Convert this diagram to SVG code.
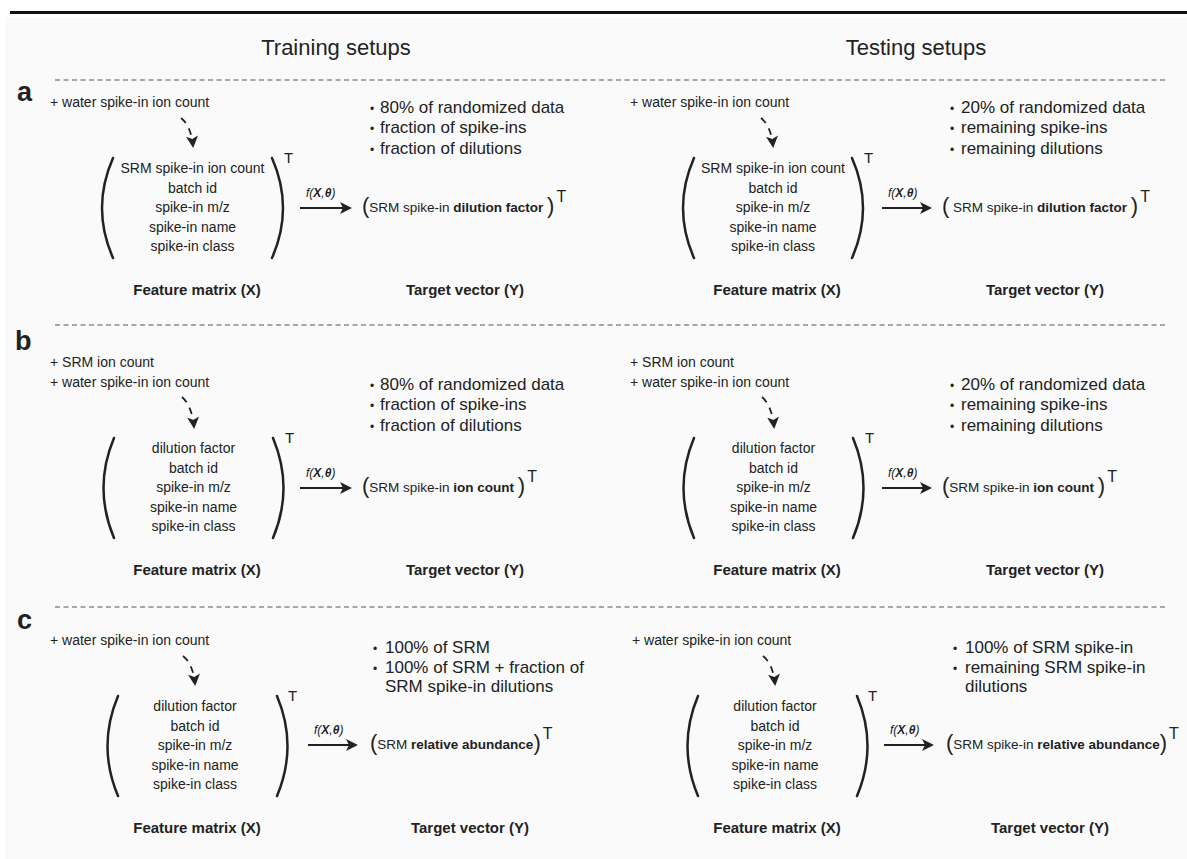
<svg xmlns="http://www.w3.org/2000/svg" width="1187" height="859" viewBox="0 0 1187 859">
<defs>
<style>
.t{font-family:"Liberation Sans",Arial,Helvetica,sans-serif;fill:#222}
.title{font-size:22px;text-anchor:middle}
.lab{font-size:27px;font-weight:bold}
.note{font-size:14px}
.row{font-size:14px;text-anchor:middle}
.bul{font-size:17px}
.bd{font-size:12px}
.cap{font-size:15px;font-weight:bold;text-anchor:middle}
.tgt{font-size:13.5px}
.sup{font-size:15px}
.flab{font-size:12px;font-style:italic}
.b{font-weight:bold}
.par{fill:none;stroke:#222;stroke-width:2.5;stroke-linecap:round}
.sep{stroke:#555;stroke-width:1;stroke-dasharray:5 3.5}
.arr{fill:none;stroke:#222;stroke-width:1.8;marker-end:url(#ah)}
.darr{fill:none;stroke:#222;stroke-width:1.8;stroke-dasharray:7 6;marker-end:url(#ah)}
</style>
<marker id="ah" viewBox="0 0 12 12" refX="10" refY="6" markerWidth="12" markerHeight="12" markerUnits="userSpaceOnUse" orient="auto">
<path d="M0,0 L12,6 L0,12 L3,6 z" fill="#222"/>
</marker>
</defs>
<rect x="0" y="0" width="1187" height="859" fill="#ffffff"/>
<rect x="5" y="17" width="1182" height="842" fill="#fafafa"/>
<line x1="10" y1="12.5" x2="1187" y2="12.5" stroke="#111" stroke-width="3"/>

<g id="headers">
<text class="t title" x="336" y="55">Training setups</text>
<text class="t title" x="916" y="55">Testing setups</text>
</g>

<g id="separators">
<line class="sep" x1="55" y1="80" x2="1167" y2="80"/>
<line class="sep" x1="55" y1="325" x2="1167" y2="325"/>
<line class="sep" x1="55" y1="607" x2="1167" y2="607"/>
<text class="t lab" x="17" y="101">a</text>
<text class="t lab" x="15" y="350">b</text>
<text class="t lab" x="17" y="629">c</text>
</g>

<g id="connectors">
<path class="darr" d="M181,118 Q191,126 193,146"/>
<path class="darr" d="M761,118 Q771,126 773,146"/>
<path class="darr" d="M182,397 Q192,406 194,427"/>
<path class="darr" d="M762,397 Q772,406 774,427"/>
<path class="darr" d="M183,656 Q193,664 195,684"/>
<path class="darr" d="M763,656 Q773,664 775,684"/>
<path class="arr" d="M300,208 H350"/>
<path class="arr" d="M882,208 H930"/>
<path class="arr" d="M300,488 H350"/>
<path class="arr" d="M882,488 H930"/>
<path class="arr" d="M308,745 H356"/>
<path class="arr" d="M884,745 H932"/>
<text class="t flab" x="306" y="197">f(<tspan class="b">X</tspan>,<tspan class="b">θ</tspan>)</text>
<text class="t flab" x="888" y="197">f(<tspan class="b">X</tspan>,<tspan class="b">θ</tspan>)</text>
<text class="t flab" x="306" y="477">f(<tspan class="b">X</tspan>,<tspan class="b">θ</tspan>)</text>
<text class="t flab" x="888" y="477">f(<tspan class="b">X</tspan>,<tspan class="b">θ</tspan>)</text>
<text class="t flab" x="314" y="734">f(<tspan class="b">X</tspan>,<tspan class="b">θ</tspan>)</text>
<text class="t flab" x="890" y="734">f(<tspan class="b">X</tspan>,<tspan class="b">θ</tspan>)</text>
</g>

<!-- Panel a training -->
<g id="a-train-input"><text class="t note" x="50" y="107">+ water spike-in ion count</text></g>
<g id="a-train-matrix">
<path class="par" d="M113,158 Q91,208 113,258"/>
<path class="par" d="M272,158 Q294,208 272,258"/>
<text class="t sup" x="284" y="163">T</text>
<text class="t row" x="192.5" y="173">SRM spike-in ion count</text>
<text class="t row" x="192.5" y="193">batch id</text>
<text class="t row" x="192.5" y="212">spike-in m/z</text>
<text class="t row" x="192.5" y="232">spike-in name</text>
<text class="t row" x="192.5" y="251">spike-in class</text>
<text class="t cap" x="197" y="295">Feature matrix (X)</text>
</g>
<g id="a-train-target">
<text class="t tgt" x="362" y="213"><tspan font-size="22">(</tspan><tspan dy="-1">SRM spike-in </tspan><tspan class="b">dilution factor </tspan><tspan font-size="22" dy="1">)</tspan><tspan font-size="16" dy="-11" dx="2">T</tspan></text>
<text class="t cap" x="465" y="295">Target vector (Y)</text>
</g>
<g id="a-train-bullets">
<text class="t bul" x="370" y="113"><tspan class="bd">•</tspan><tspan x="380">80% of randomized data</tspan></text>
<text class="t bul" x="370" y="133"><tspan class="bd">•</tspan><tspan x="380">fraction of spike-ins</tspan></text>
<text class="t bul" x="370" y="154"><tspan class="bd">•</tspan><tspan x="380">fraction of dilutions</tspan></text>
</g>

<!-- Panel a testing -->
<g id="a-test-input"><text class="t note" x="630" y="107">+ water spike-in ion count</text></g>
<g id="a-test-matrix">
<path class="par" d="M694,158 Q672,208 694,258"/>
<path class="par" d="M852,158 Q874,208 852,258"/>
<text class="t sup" x="864" y="163">T</text>
<text class="t row" x="773" y="173">SRM spike-in ion count</text>
<text class="t row" x="773" y="193">batch id</text>
<text class="t row" x="773" y="212">spike-in m/z</text>
<text class="t row" x="773" y="232">spike-in name</text>
<text class="t row" x="773" y="251">spike-in class</text>
<text class="t cap" x="777" y="295">Feature matrix (X)</text>
</g>
<g id="a-test-target">
<text class="t tgt" x="942" y="213"><tspan font-size="22">(</tspan><tspan dy="-1"> SRM spike-in </tspan><tspan class="b">dilution factor </tspan><tspan font-size="22" dy="1">)</tspan><tspan font-size="16" dy="-11" dx="2">T</tspan></text>
<text class="t cap" x="1045" y="295">Target vector (Y)</text>
</g>
<g id="a-test-bullets">
<text class="t bul" x="950" y="113"><tspan class="bd">•</tspan><tspan x="961">20% of randomized data</tspan></text>
<text class="t bul" x="950" y="133"><tspan class="bd">•</tspan><tspan x="961">remaining spike-ins</tspan></text>
<text class="t bul" x="950" y="154"><tspan class="bd">•</tspan><tspan x="961">remaining dilutions</tspan></text>
</g>

<!-- Panel b training -->
<g id="b-train-input">
<text class="t note" x="50" y="367">+ SRM ion count</text>
<text class="t note" x="50" y="387">+ water spike-in ion count</text>
</g>
<g id="b-train-matrix">
<path class="par" d="M114,438 Q93,488 114,538"/>
<path class="par" d="M273,438 Q294,488 273,538"/>
<text class="t sup" x="285" y="443">T</text>
<text class="t row" x="193.5" y="453">dilution factor</text>
<text class="t row" x="193.5" y="473">batch id</text>
<text class="t row" x="193.5" y="492">spike-in m/z</text>
<text class="t row" x="193.5" y="512">spike-in name</text>
<text class="t row" x="193.5" y="531">spike-in class</text>
<text class="t cap" x="197" y="575">Feature matrix (X)</text>
</g>
<g id="b-train-target">
<text class="t tgt" x="362" y="493"><tspan font-size="22">(</tspan><tspan dy="-1">SRM spike-in </tspan><tspan class="b">ion count </tspan><tspan font-size="22" dy="1">)</tspan><tspan font-size="16" dy="-11" dx="2">T</tspan></text>
<text class="t cap" x="465" y="575">Target vector (Y)</text>
</g>
<g id="b-train-bullets">
<text class="t bul" x="370" y="390"><tspan class="bd">•</tspan><tspan x="380">80% of randomized data</tspan></text>
<text class="t bul" x="370" y="410"><tspan class="bd">•</tspan><tspan x="380">fraction of spike-ins</tspan></text>
<text class="t bul" x="370" y="431"><tspan class="bd">•</tspan><tspan x="380">fraction of dilutions</tspan></text>
</g>

<!-- Panel b testing -->
<g id="b-test-input">
<text class="t note" x="630" y="367">+ SRM ion count</text>
<text class="t note" x="630" y="387">+ water spike-in ion count</text>
</g>
<g id="b-test-matrix">
<path class="par" d="M694,438 Q673,488 694,538"/>
<path class="par" d="M853,438 Q874,488 853,538"/>
<text class="t sup" x="865" y="443">T</text>
<text class="t row" x="773.5" y="453">dilution factor</text>
<text class="t row" x="773.5" y="473">batch id</text>
<text class="t row" x="773.5" y="492">spike-in m/z</text>
<text class="t row" x="773.5" y="512">spike-in name</text>
<text class="t row" x="773.5" y="531">spike-in class</text>
<text class="t cap" x="777" y="575">Feature matrix (X)</text>
</g>
<g id="b-test-target">
<text class="t tgt" x="942" y="493"><tspan font-size="22">(</tspan><tspan dy="-1">SRM spike-in </tspan><tspan class="b">ion count </tspan><tspan font-size="22" dy="1">)</tspan><tspan font-size="16" dy="-11" dx="2">T</tspan></text>
<text class="t cap" x="1045" y="575">Target vector (Y)</text>
</g>
<g id="b-test-bullets">
<text class="t bul" x="950" y="390"><tspan class="bd">•</tspan><tspan x="961">20% of randomized data</tspan></text>
<text class="t bul" x="950" y="410"><tspan class="bd">•</tspan><tspan x="961">remaining spike-ins</tspan></text>
<text class="t bul" x="950" y="431"><tspan class="bd">•</tspan><tspan x="961">remaining dilutions</tspan></text>
</g>

<!-- Panel c training -->
<g id="c-train-input"><text class="t note" x="50" y="645">+ water spike-in ion count</text></g>
<g id="c-train-matrix">
<path class="par" d="M118,696 Q97,746 118,796"/>
<path class="par" d="M277,696 Q298,746 277,796"/>
<text class="t sup" x="288" y="701">T</text>
<text class="t row" x="195" y="711">dilution factor</text>
<text class="t row" x="195" y="731">batch id</text>
<text class="t row" x="195" y="750">spike-in m/z</text>
<text class="t row" x="195" y="770">spike-in name</text>
<text class="t row" x="195" y="789">spike-in class</text>
<text class="t cap" x="197" y="833">Feature matrix (X)</text>
</g>
<g id="c-train-target">
<text class="t tgt" x="370" y="750"><tspan font-size="22">(</tspan><tspan dy="-1">SRM </tspan><tspan class="b">relative abundance</tspan><tspan font-size="22" dy="1">)</tspan><tspan font-size="16" dy="-11" dx="2">T</tspan></text>
<text class="t cap" x="470" y="833">Target vector (Y)</text>
</g>
<g id="c-train-bullets">
<text class="t bul" x="373" y="653"><tspan class="bd">•</tspan><tspan x="385">100% of SRM</tspan></text>
<text class="t bul" x="373" y="673"><tspan class="bd">•</tspan><tspan x="385">100% of SRM + fraction of</tspan></text>
<text class="t bul" x="385" y="692">SRM spike-in dilutions</text>
</g>

<!-- Panel c testing -->
<g id="c-test-input"><text class="t note" x="632" y="645">+ water spike-in ion count</text></g>
<g id="c-test-matrix">
<path class="par" d="M698,696 Q677,746 698,796"/>
<path class="par" d="M857,696 Q878,746 857,796"/>
<text class="t sup" x="868" y="701">T</text>
<text class="t row" x="775" y="711">dilution factor</text>
<text class="t row" x="775" y="731">batch id</text>
<text class="t row" x="775" y="750">spike-in m/z</text>
<text class="t row" x="775" y="770">spike-in name</text>
<text class="t row" x="775" y="789">spike-in class</text>
<text class="t cap" x="777" y="833">Feature matrix (X)</text>
</g>
<g id="c-test-target">
<text class="t tgt" x="946" y="750"><tspan font-size="22">(</tspan><tspan dy="-1">SRM spike-in </tspan><tspan class="b">relative abundance</tspan><tspan font-size="22" dy="1">)</tspan><tspan font-size="16" dy="-11" dx="2">T</tspan></text>
<text class="t cap" x="1050" y="833">Target vector (Y)</text>
</g>
<g id="c-test-bullets">
<text class="t bul" x="953" y="653"><tspan class="bd">•</tspan><tspan x="965">100% of SRM spike-in</tspan></text>
<text class="t bul" x="953" y="673"><tspan class="bd">•</tspan><tspan x="965">remaining SRM spike-in</tspan></text>
<text class="t bul" x="965" y="692">dilutions</text>
</g>
</svg>
